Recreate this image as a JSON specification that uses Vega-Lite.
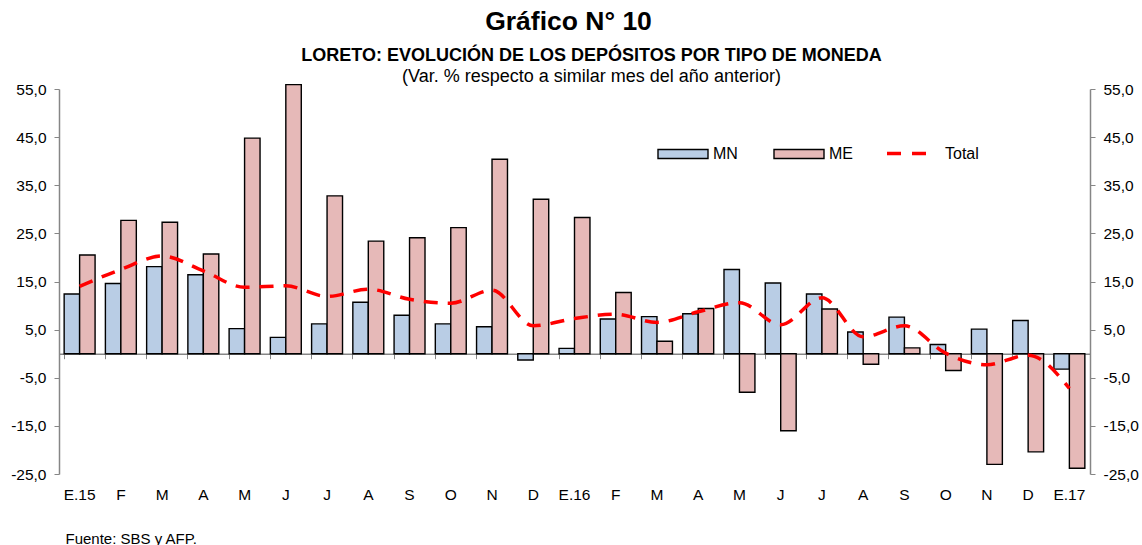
{
  "$schema": "https://vega.github.io/schema/vega-lite/v6.json",
  "width": 1031,
  "height": 385,
  "autosize": {"type": "none"},
  "padding": {"left": 59, "top": 89, "right": 52, "bottom": 71},
  "background": "white",
  "config": {
    "view": {"stroke": null},
    "font": "Liberation Sans",
    "axis": {"grid": false, "labelFont": "Liberation Sans", "titleFont": "Liberation Sans", "labelColor": "black", "titleColor": "black"},
    "legend": {"labelFont": "Liberation Sans", "labelColor": "black"}
  },
  "title": {
    "text": "Gráfico N° 10",
    "fontSize": 26.5,
    "fontWeight": "bold",
    "font": "Liberation Sans",
    "color": "black",
    "anchor": "middle",
    "frame": "group",
    "dx": -6,
    "offset": 11
  },
  "datasets": {
    "barras": [
      {"mes": "01 E.15", "serie": "MN", "valor": 12.4}, {"mes": "01 E.15", "serie": "ME", "valor": 20.5},
      {"mes": "02 F", "serie": "MN", "valor": 14.6}, {"mes": "02 F", "serie": "ME", "valor": 27.7},
      {"mes": "03 M", "serie": "MN", "valor": 18.1}, {"mes": "03 M", "serie": "ME", "valor": 27.3},
      {"mes": "04 A", "serie": "MN", "valor": 16.4}, {"mes": "04 A", "serie": "ME", "valor": 20.7},
      {"mes": "05 M", "serie": "MN", "valor": 5.2}, {"mes": "05 M", "serie": "ME", "valor": 44.8},
      {"mes": "06 J", "serie": "MN", "valor": 3.4}, {"mes": "06 J", "serie": "ME", "valor": 55.9},
      {"mes": "07 J", "serie": "MN", "valor": 6.2}, {"mes": "07 J", "serie": "ME", "valor": 32.8},
      {"mes": "08 A", "serie": "MN", "valor": 10.7}, {"mes": "08 A", "serie": "ME", "valor": 23.4},
      {"mes": "09 S", "serie": "MN", "valor": 8.0}, {"mes": "09 S", "serie": "ME", "valor": 24.1},
      {"mes": "10 O", "serie": "MN", "valor": 6.2}, {"mes": "10 O", "serie": "ME", "valor": 26.2},
      {"mes": "11 N", "serie": "MN", "valor": 5.6}, {"mes": "11 N", "serie": "ME", "valor": 40.4},
      {"mes": "12 D", "serie": "MN", "valor": -1.3}, {"mes": "12 D", "serie": "ME", "valor": 32.1},
      {"mes": "13 E.16", "serie": "MN", "valor": 1.1}, {"mes": "13 E.16", "serie": "ME", "valor": 28.3},
      {"mes": "14 F", "serie": "MN", "valor": 7.2}, {"mes": "14 F", "serie": "ME", "valor": 12.7},
      {"mes": "15 M", "serie": "MN", "valor": 7.7}, {"mes": "15 M", "serie": "ME", "valor": 2.6},
      {"mes": "16 A", "serie": "MN", "valor": 8.3}, {"mes": "16 A", "serie": "ME", "valor": 9.4},
      {"mes": "17 M", "serie": "MN", "valor": 17.5}, {"mes": "17 M", "serie": "ME", "valor": -8.0},
      {"mes": "18 J", "serie": "MN", "valor": 14.7}, {"mes": "18 J", "serie": "ME", "valor": -16.0},
      {"mes": "19 J", "serie": "MN", "valor": 12.4}, {"mes": "19 J", "serie": "ME", "valor": 9.3},
      {"mes": "20 A", "serie": "MN", "valor": 4.5}, {"mes": "20 A", "serie": "ME", "valor": -2.2},
      {"mes": "21 S", "serie": "MN", "valor": 7.6}, {"mes": "21 S", "serie": "ME", "valor": 1.2},
      {"mes": "22 O", "serie": "MN", "valor": 1.9}, {"mes": "22 O", "serie": "ME", "valor": -3.5},
      {"mes": "23 N", "serie": "MN", "valor": 5.1}, {"mes": "23 N", "serie": "ME", "valor": -23.0},
      {"mes": "24 D", "serie": "MN", "valor": 6.9}, {"mes": "24 D", "serie": "ME", "valor": -20.4},
      {"mes": "25 E.17", "serie": "MN", "valor": -3.2}, {"mes": "25 E.17", "serie": "ME", "valor": -23.8}
    ],
    "total": [
      {"mes": "01 E.15", "total": 14.0}, {"mes": "02 F", "total": 17.5}, {"mes": "03 M", "total": 20.3},
      {"mes": "04 A", "total": 17.2}, {"mes": "05 M", "total": 13.8}, {"mes": "06 J", "total": 14.1},
      {"mes": "07 J", "total": 11.9}, {"mes": "08 A", "total": 13.4}, {"mes": "09 S", "total": 11.3},
      {"mes": "10 O", "total": 10.5}, {"mes": "11 N", "total": 13.2}, {"mes": "12 D", "total": 5.8},
      {"mes": "13 E.16", "total": 7.3}, {"mes": "14 F", "total": 8.2}, {"mes": "15 M", "total": 6.5},
      {"mes": "16 A", "total": 8.7}, {"mes": "17 M", "total": 10.6}, {"mes": "18 J", "total": 6.0},
      {"mes": "19 J", "total": 11.6}, {"mes": "20 A", "total": 3.5}, {"mes": "21 S", "total": 5.8},
      {"mes": "22 O", "total": 0.1}, {"mes": "23 N", "total": -2.3}, {"mes": "24 D", "total": -0.3},
      {"mes": "25 E.17", "total": -7.2}
    ]
  },
  "resolve": {"axis": {"x": "independent", "y": "independent"}},
  "layer": [
    {
      "data": {"name": "barras"},
      "mark": {"type": "bar", "stroke": "black", "strokeWidth": 1.4},
      "encoding": {
        "x": {
          "field": "mes", "type": "ordinal",
          "scale": {"paddingInner": 0.25, "paddingOuter": 0.125},
          "axis": {"orient": "bottom", "offset": -120.31, "labels": false, "title": null, "domain": true, "domainColor": "#868686", "domainWidth": 1.5, "ticks": true, "tickColor": "#868686", "tickSize": 5, "tickWidth": 1, "bandPosition": 0}
        },
        "xOffset": {"field": "serie", "type": "nominal", "sort": ["MN", "ME"], "scale": {"paddingInner": 0, "paddingOuter": 0}},
        "y": {
          "field": "valor", "type": "quantitative",
          "scale": {"domain": [-25, 55], "nice": false, "zero": false},
          "axis": {"orient": "left", "values": [-25, -15, -5, 5, 15, 25, 35, 45, 55], "labelExpr": "datum.value + ',0'", "title": null, "domainColor": "#868686", "domainWidth": 1.5, "tickColor": "#868686", "tickSize": 5, "labelPadding": 8, "labelFontSize": 15.5}
        },
        "fill": {
          "field": "serie", "type": "nominal", "sort": ["MN", "ME"],
          "scale": {"domain": ["MN", "ME"], "range": ["#b9cde5", "#e6b9b8"]},
          "legend": {"title": null, "orient": "none", "legendX": 598, "legendY": 39, "direction": "horizontal", "symbolType": "M-1,-0.18L1,-0.18L1,0.18L-1,0.18Z", "symbolSize": 2500, "symbolStrokeColor": "black", "symbolStrokeWidth": 1.4, "labelOffset": 4, "columnPadding": 33, "labelFontSize": 16}
        }
      }
    },
    {
      "data": {"name": "total"},
      "mark": {"type": "line", "strokeDash": [14, 10], "strokeWidth": 3.5, "interpolate": "monotone"},
      "encoding": {
        "x": {
          "field": "mes", "type": "ordinal",
          "axis": {"orient": "bottom", "domain": false, "ticks": false, "labelPadding": 13, "labelFontSize": 15.5, "labelExpr": "substring(datum.label, 3)", "labelAngle": 0, "title": "Fuente: SBS y AFP.", "titleX": 6, "titleY": 64, "titleAlign": "left", "titleBaseline": "middle", "titleFontWeight": "normal", "titleFontSize": 15}
        },
        "y": {
          "field": "total", "type": "quantitative",
          "axis": {"orient": "right", "values": [-25, -15, -5, 5, 15, 25, 35, 45, 55], "labelExpr": "datum.value + ',0'", "title": null, "domainColor": "#868686", "domainWidth": 1.5, "tickColor": "#868686", "tickSize": 5, "labelPadding": 8, "labelFontSize": 15.5}
        },
        "stroke": {
          "datum": "Total", "type": "nominal",
          "scale": {"range": ["#ff0000"]},
          "legend": {"title": null, "orient": "none", "legendX": 826, "legendY": 43, "symbolType": "stroke", "symbolSize": 1521, "symbolStrokeWidth": 3.5, "symbolDash": [14, 11], "labelOffset": 17, "labelFontSize": 16}
        }
      }
    },
    {
      "data": {"name": "total"},
      "mark": {"type": "point", "opacity": 0},
      "encoding": {
        "x": {
          "field": "mes", "type": "ordinal",
          "axis": {"orient": "top", "domain": false, "ticks": false, "labels": false, "title": "LORETO: EVOLUCIÓN DE LOS DEPÓSITOS POR TIPO DE MONEDA", "titleX": 532, "titleY": -34, "titleAlign": "center", "titleBaseline": "middle", "titleFontWeight": "bold", "titleFontSize": 18}
        },
        "y": {"field": "total", "type": "quantitative", "axis": null}
      }
    },
    {
      "data": {"name": "total"},
      "mark": {"type": "point", "opacity": 0},
      "encoding": {
        "x": {
          "field": "mes", "type": "ordinal",
          "axis": {"orient": "top", "domain": false, "ticks": false, "labels": false, "title": "(Var. % respecto a similar mes del año anterior)", "titleX": 532, "titleY": -13, "titleAlign": "center", "titleBaseline": "middle", "titleFontWeight": "normal", "titleFontSize": 18}
        },
        "y": {"field": "total", "type": "quantitative", "axis": null}
      }
    }
  ]
}
